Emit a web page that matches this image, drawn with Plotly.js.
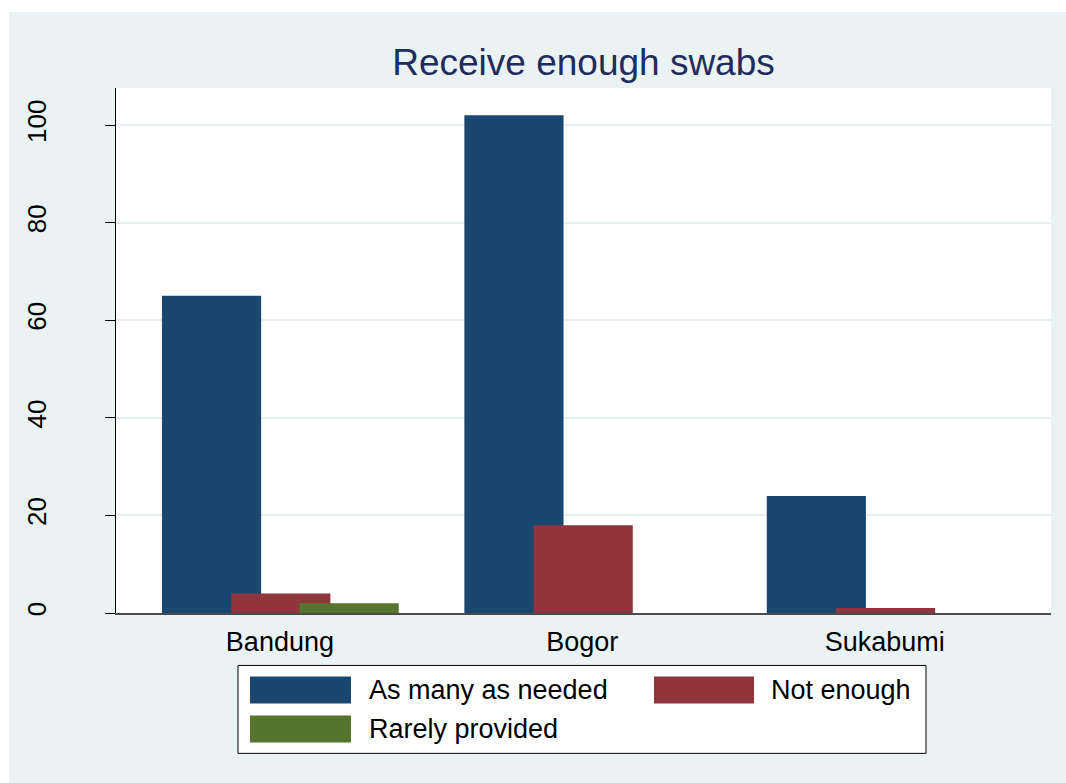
<!DOCTYPE html>
<html>
<head>
<meta charset="utf-8">
<script src="https://cdn.plot.ly/plotly-3.0.1.min.js"></script>
<style>
  html, body { margin: 0; padding: 0; background: #ffffff; width: 1066px; height: 783px; overflow: hidden; }
  #chart { position: absolute; left: 9px; top: 12px; width: 1057px; height: 771px; }
</style>
</head>
<body>
<div id="chart"></div>
<script>
// ---- data ----
var categories = ["Bandung", "Bogor", "Sukabumi"];
var seriesNames = ["As many as needed", "Not enough", "Rarely provided"];
var asManyAsNeeded = [65, 102, 24];
var notEnough = [4, 18, 1];
var rarelyProvided = [2, 0, 0];
var yTickValues = [0, 20, 40, 60, 80, 100];
var titleText = "Receive enough swabs";

// ---- styles ----
var seriesValues = [asManyAsNeeded, notEnough, rarelyProvided];
var colors = ["#1a476f", "#90353b", "#55752f"];
var offsets = [-0.390, -0.161, 0.065];
var barWidth = 0.328;
var FONT = "Liberation Sans, Arial, sans-serif";

var traces = seriesValues.map(function (vals, i) {
  return {
    type: "bar",
    x: categories,
    y: vals,
    name: seriesNames[i],
    width: barWidth,
    offset: offsets[i],
    marker: { color: colors[i], line: { width: 0 } },
    hoverinfo: "x+y+name"
  };
});

// plot area in page pixels (for the hand-drawn legend)
var pageOffX = 9, pageOffY = 12;
var plotL = 116, plotR = 1051, plotT = 88, plotB = 613.5;
function px(x) { return (x - plotL) / (plotR - plotL); }
function py(y) { return (plotB - y) / (plotB - plotT); }

var shapes = [];
var annotations = [];
// legend box
shapes.push({ type: "rect", xref: "paper", yref: "paper", x0: px(238), x1: px(926), y0: py(754), y1: py(666),
  fillcolor: "#ffffff", line: { color: "#000000", width: 1 }, layer: "above" });
var legendSlots = [
  { sx0: 250, sx1: 351, sy0: 677, sy1: 704, tx: 367, ty: 691 },
  { sx0: 654, sx1: 754, sy0: 677, sy1: 704, tx: 769, ty: 691 },
  { sx0: 250, sx1: 351, sy0: 716, sy1: 743, tx: 367, ty: 730 }
];
seriesNames.forEach(function (nm, i) {
  var s = legendSlots[i];
  shapes.push({ type: "rect", xref: "paper", yref: "paper", x0: px(s.sx0), x1: px(s.sx1), y0: py(s.sy1), y1: py(s.sy0),
    fillcolor: colors[i], line: { width: 0 }, layer: "above" });
  annotations.push({ xref: "paper", yref: "paper", x: px(s.tx), y: py(s.ty), xanchor: "left", yanchor: "middle",
    text: nm, showarrow: false, font: { family: FONT, size: 27, color: "#000000" } });
});

var layout = {
  width: 1057, height: 771,
  margin: { l: plotL - pageOffX, r: 1066 - plotR, t: plotT - pageOffY, b: 783 - plotB, pad: 0 },
  paper_bgcolor: "#eaf2f3",
  plot_bgcolor: "#ffffff",
  barmode: "overlay",
  showlegend: false,
  font: { family: FONT, size: 27, color: "#000000" },
  title: { text: titleText, x: 0.5, xref: "paper", xanchor: "center", y: 1 - (62 - pageOffY) / 771, yanchor: "middle",
    font: { family: FONT, size: 37, color: "#1e2d5c" } },
  xaxis: {
    type: "category",
    range: [-0.542, 2.550],
    showline: true, linecolor: "#4a4a4a", linewidth: 2,
    ticks: "", showgrid: false, zeroline: false,
    ticklabelstandoff: 4,
    tickfont: { family: FONT, size: 27, color: "#000000" }
  },
  yaxis: {
    range: [0, 107.6],
    tickmode: "array", tickvals: yTickValues, ticktext: yTickValues.map(String),
    ticks: "outside", ticklen: 10, tickwidth: 1, tickcolor: "#000000",
    tickangle: -90,
    ticklabelstandoff: 49,
    showline: true, linecolor: "#000000", linewidth: 1,
    showgrid: true, gridcolor: "#e6eff0", gridwidth: 2,
    zeroline: false,
    tickfont: { family: FONT, size: 26, color: "#000000" }
  },
  shapes: shapes,
  annotations: annotations
};

Plotly.newPlot("chart", traces, layout, { displayModeBar: false, staticPlot: true });
</script>
</body>
</html>
